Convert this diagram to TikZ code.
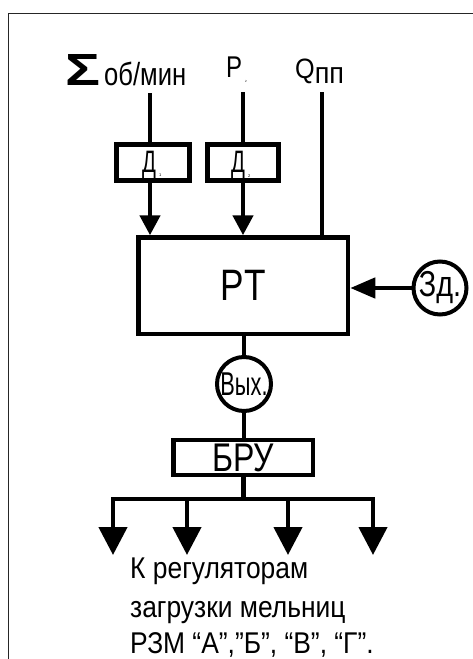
\documentclass[tikz,border=0pt]{standalone}
\usepackage{fontspec}
\setmainfont{Liberation Sans}
\newfontfamily\nar[FakeStretch=0.8]{Liberation Sans}
\newfontfamily\narb[FakeStretch=0.88]{Liberation Sans}
\newfontfamily\narc[FakeStretch=0.66]{Liberation Sans}
\newfontfamily\nard[FakeStretch=0.9]{Liberation Sans}
\usetikzlibrary{arrows.meta}
\begin{document}
\begin{tikzpicture}[x=1pt,y=-1pt,
  wire/.style={line width=4.5pt},
  arrA/.style={wire,-{Triangle[width=20pt,length=20pt]}},
  arrB/.style={wire,-{Triangle[width=20pt,length=25pt]}},
  arrC/.style={wire,-{Triangle[width=28pt,length=28pt]}},
  blk/.style={draw,line width=4.5pt,rectangle,inner sep=0pt},
  rnd/.style={draw,line width=4pt,circle,inner sep=0pt},
  lab/.style={inner sep=0pt,anchor=base west},
  frame/.style={line width=1.3pt,draw=black!85}]
\useasboundingbox (0,0) rectangle (473,659);
\fill[white] (0,0) rectangle (473,659);
\draw[frame] (8.5,662) -- (8.5,13.5) -- (476,13.5);

% labels on top
\node[inner sep=0pt,anchor=south west] (sig) at (65,86) {\resizebox{35pt}{31pt}{\bfseries Σ}};
\node[lab] (obm) at (104,85) {\nar\fontsize{32}{36}\selectfont об/мин};
\node[lab] (plab) at (226,77) {\nar\fontsize{30}{32}\selectfont P};
\node[lab] (psub) at (245,82) {\fontsize{3}{3}\selectfont 2};
\node[lab] (qlab) at (295,78) {\nard\fontsize{28}{32}\selectfont Q\raisebox{-5pt}{\fontsize{30}{32}\selectfont пп}};

% sensors
\node[blk,minimum width=73pt,minimum height=36pt] (d1) at (153,162.5) {};
\node[lab] at (142,172) {\narc\fontsize{31}{32}\selectfont Д};
\node[lab] at (159,176) {\fontsize{4}{4}\selectfont 1};
\node[blk,minimum width=71pt,minimum height=36pt] (d2) at (243,162.5) {};
\node[lab] at (231,172) {\narc\fontsize{31}{32}\selectfont Д};
\node[lab] at (248,177) {\fontsize{4}{4}\selectfont 2};

% main block
\node[blk,minimum width=209.5pt,minimum height=96.5pt] (rt) at (243.25,285.75) {\nar\fontsize{44}{48}\selectfont PT};
\node[rnd,minimum size=53pt] (zd) at (440,288) {\nar\fontsize{36}{40}\selectfont Зд.};
\node[rnd,minimum size=54pt] (vyh) at (244,384) {\narc\fontsize{33}{36}\selectfont Вых.};
\node[blk,minimum width=139.5pt,minimum height=35pt] (bru) at (243.25,457.5) {\nar\fontsize{40}{40}\selectfont БРУ};

% input wires
\coordinate (s1) at (150,93);
\coordinate (s2) at (243,92);
\coordinate (s3) at (322,92);
\draw[wire] (s1) -- (s1 |- d1.north);
\draw[arrA] (s1 |- d1.south) -- (s1 |- rt.north);
\draw[wire] (s2) -- (s2 |- d2.north);
\draw[arrA] (s2 |- d2.south) -- (s2 |- rt.north);
\draw[wire] (s3) -- (s3 |- rt.north);
\draw[arrB] (zd.west) -- (zd.west -| rt.east);

% output chain
\draw[wire] (vyh.north |- rt.south) -- (vyh.north);
\draw[wire] (vyh.south) -- (vyh.south |- bru.north);
\coordinate (b1) at (113,499);
\coordinate (b2) at (187,499);
\coordinate (b3) at (288,499);
\coordinate (b4) at (373,499);
\draw[wire] (bru.south) -- (bru.south |- b1);
\draw[wire,line cap=rect] (b1) -- (b4);
\coordinate (e1) at (113,555);
\coordinate (e2) at (187,555);
\coordinate (e3) at (288,555);
\coordinate (e4) at (373,555);
\draw[arrC] (b1) -- (e1);
\draw[arrC] (b2) -- (e2);
\draw[arrC] (b3) -- (e3);
\draw[arrC] (b4) -- (e4);

% caption
\node[lab] (t1) at (130,578) {\narb\fontsize{30}{36}\selectfont К регуляторам};
\node[lab] (t2) at (130,617) {\narb\fontsize{30}{36}\selectfont загрузки мельниц};
\node[lab] (t3) at (130,653) {\narb\fontsize{30}{36}\selectfont РЗМ “А”,”Б”, “В”, “Г”.};
\end{tikzpicture}
\end{document}
